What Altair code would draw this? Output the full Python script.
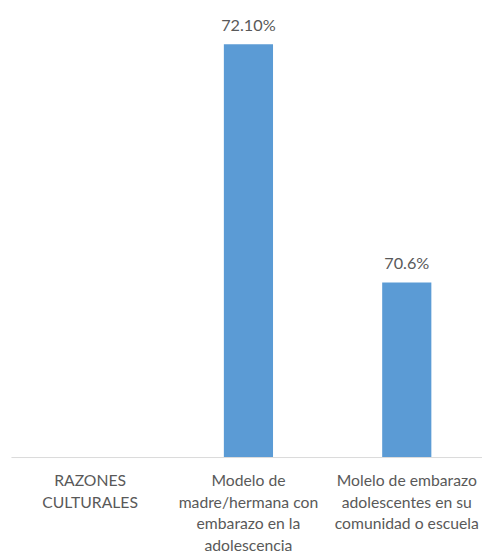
import altair as alt
import pandas as pd

categories = [
    "RAZONES|CULTURALES",
    "Modelo de|madre/hermana con|embarazo en la|adolescencia",
    "Molelo de embarazo|adolescentes en su|comunidad o escuela",
]
values = [None, 72.1, 70.6]
value_labels = ["", "72.10%", "70.6%"]

df = pd.DataFrame({"cat": categories, "val": values, "lab": value_labels})

x_enc = alt.X(
    "cat:N",
    sort=categories,
    scale=alt.Scale(domain=categories, paddingInner=0, paddingOuter=0, range=[3, 486]),
    axis=alt.Axis(
        title=None,
        labelAngle=0,
        labelExpr="split(datum.label, '|')",
        labelFont="Lato",
        labelFontSize=16,
        labelColor="#595959",
        labelLineHeight=22,
        labelPadding=16,
        labelLimit=0,
        ticks=False,
        grid=False,
        domainColor="#D9D9D9",
        domainWidth=1,
    ),
)
y_scale = alt.Scale(domain=[69.5, 72.3], zero=False, nice=False)

bars = alt.Chart(df).mark_bar(size=50, color="#5B9BD5", clip=True).encode(
    x=x_enc,
    y=alt.Y("val:Q", scale=y_scale, axis=None),
)

texts = alt.Chart(df).mark_text(
    baseline="bottom", dy=-11, font="Lato", fontSize=16.5, color="#595959"
).encode(
    x=x_enc,
    y=alt.Y("val:Q", scale=y_scale, axis=None),
    text="lab:N",
)

chart = (
    alt.layer(bars, texts)
    .properties(
        width=482,
        height=452,
        padding={"left": 0, "top": 0, "right": 0, "bottom": 97},
        autosize=alt.AutoSizeParams(type="none"),
    )
    .configure_view(stroke=None)
)

chart.save("out.html", embed_options={"renderer": "svg", "actions": False})
